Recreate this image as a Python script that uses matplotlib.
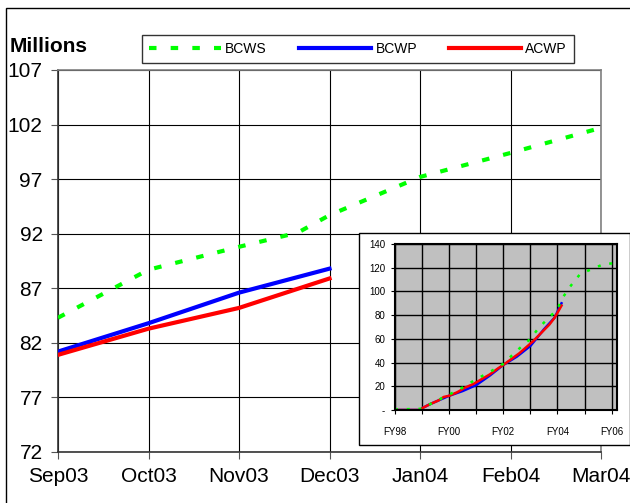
import numpy as np
import matplotlib
matplotlib.use('Agg')
import matplotlib.pyplot as plt
from matplotlib.patches import Rectangle

plt.rcParams['font.family'] = ['Liberation Sans', 'DejaVu Sans']

# main chart data (millions)
months = ['Sep03', 'Oct03', 'Nov03', 'Dec03', 'Jan04', 'Feb04', 'Mar04']
bcws_x = [0, 1, 2, 2.65, 3, 4, 5, 6]
bcws = [84.3, 88.7, 90.8, 92.1, 93.7, 97.2, 99.4, 101.7]
bcwp = [81.2, 83.8, 86.6, 88.8]
acwp = [80.9, 83.3, 85.2, 87.9]
yticks = [72, 77, 82, 87, 92, 97, 102, 107]

# inset data (years since FY98, millions)
fy_labels = ['FY98', 'FY00', 'FY02', 'FY04', 'FY06']
in_ws_x = [0, 1.0, 1.3, 2.0, 2.5, 3.0, 3.5, 4.0, 4.5, 5.0, 5.3, 5.6, 6.0, 6.2, 6.5, 6.85, 7.3, 7.7, 8.2]
in_ws_y = [0.5, 1, 5, 13, 19, 26, 32, 39, 50, 60, 69, 76, 85, 95, 105, 115, 119, 123, 124]
in_wp_x = [0, 0.95, 1.0, 1.3, 1.6, 2.0, 2.5, 3.0, 3.5, 4.0, 4.5, 5.0, 5.5, 5.9, 6.15]
in_wp_y = [0, 0, 1.5, 5, 8, 12, 16, 21, 29, 38, 45, 54, 68, 78, 90]
in_ac_x = [0, 0.95, 1.0, 1.3, 1.6, 1.8, 2.0, 2.3, 2.6, 2.9, 3.2, 3.5, 3.8, 4.0, 4.3, 4.6, 4.9, 5.1, 5.4, 5.7, 5.9, 6.15]
in_ac_y = [0, 0, 1.5, 5, 8, 11, 12, 15, 19, 22, 26, 30, 35, 38, 43, 48, 54, 58, 65, 72, 78, 88]
in_yticks = [0, 20, 40, 60, 80, 100, 120, 140]

fig = plt.figure(figsize=(6.3, 5.03), dpi=100)

# outer frame
fig.patches.append(Rectangle((6/630, -0.05), 1.0, 1 - 8/503 + 0.05, transform=fig.transFigure,
                             fill=False, edgecolor='black', linewidth=1.0, zorder=0))

ax = fig.add_axes([58/630, 1 - 452/503, 543/630, 382/503])
ax.plot(range(len(bcwp)), bcwp, color='#0000ff', lw=3, label='BCWP', zorder=3)
ax.plot(range(len(acwp)), acwp, color='#ff0000', lw=3, label='ACWP', zorder=3)
ax.plot(bcws_x, bcws, color='#00ff00', lw=3, dashes=(1.8, 3.4), label='BCWS', zorder=3)
ax.set_xlim(0, 6)
ax.set_ylim(72, 107)
ax.set_xticks(range(len(months)))
ax.set_xticklabels(months)
ax.set_yticks(yticks)
ax.grid(True, color='black', lw=0.8)
ax.tick_params(labelsize=15, length=5, color='#555555', pad=6)
for s in ax.spines.values():
    s.set_color('#808080')
    s.set_linewidth(1.2)
ax.spines['left'].set_color('#333333')
ax.spines['bottom'].set_color('#333333')

fig.text(10/630, 1 - 47/503, 'Millions', fontsize=15, fontweight='bold', va='center', ha='left')

h, l = ax.get_legend_handles_labels()
order = [2, 0, 1]
fig.legend([h[i] for i in order], [l[i] for i in order], loc='center', ncol=3, mode='expand',
           bbox_to_anchor=(142/630, 1 - 65/503, 432/630, 32/503), fontsize=10,
           frameon=True, fancybox=False, edgecolor='black', handlelength=5.2,
           borderaxespad=0, handletextpad=0.3, columnspacing=1.5, borderpad=0.5)
fig.legends[0].get_frame().set_linewidth(1.0)

# inset box
fig.patches.append(Rectangle((359/630, 1 - 445/503), 271/630, 212/503, transform=fig.transFigure,
                             facecolor='white', edgecolor='black', linewidth=1.0, zorder=5))

ins = fig.add_axes([395/630, 1 - 410/503, 222/630, 166/503])
ins.set_zorder(6)
ins.set_facecolor('#c0c0c0')
ins.plot(in_wp_x, in_wp_y, color='#0000ff', lw=1.8)
ins.plot(in_ac_x, in_ac_y, color='#ff0000', lw=1.8)
ins.plot(in_ws_x, in_ws_y, color='#00ff00', lw=1.8, dashes=(1.2, 3.5))
ins.set_xlim(0, 8.2)
ins.set_ylim(0, 140)
ins.set_xticks(np.arange(0, 8.5, 1))
ins.set_xticklabels([fy_labels[i // 2] if i % 2 == 0 else '' for i in range(9)])
ins.set_yticks(in_yticks)
ins.set_yticklabels(['-'] + [str(v) for v in in_yticks[1:]])
ins.grid(True, color='black', lw=1.0)
ins.tick_params(labelsize=7, length=3)
ins.tick_params(axis='x', pad=9)
ins.tick_params(axis='y', pad=4)
for s in ins.spines.values():
    s.set_color('black')
    s.set_linewidth(1.5)

fig.savefig('out.png', dpi=100)
